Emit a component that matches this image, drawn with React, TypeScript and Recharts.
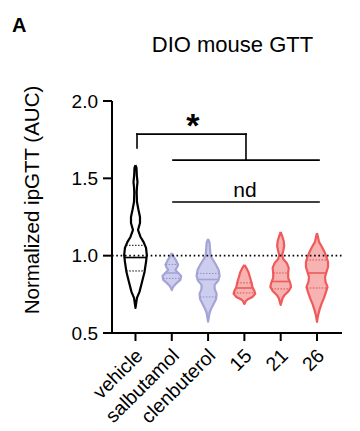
import React from 'react';
import { ComposedChart, Scatter, XAxis, YAxis, ReferenceLine, ReferenceDot, Label } from 'recharts';

const FONT = '"Liberation Sans", Arial, Helvetica, sans-serif';

const CATEGORIES = ['vehicle', 'salbutamol', 'clenbuterol', '15', '21', '26'];
const Y_TICKS = [0.5, 1.0, 1.5, 2.0];
const X_DOMAIN = [-0.647, 5.689];
const REF_VALUE = 1.0;

// violin profiles: values (y) and half-widths (category units); quartiles [Q3, median, Q1]
const VEHICLE_Y = [1.586, 1.567, 1.521, 1.476, 1.444, 1.411, 1.347, 1.295, 1.25, 1.211, 1.166, 1.121, 1.089, 1.05, 1.005, 0.959, 0.895, 0.83, 0.766, 0.727, 0.662];
const VEHICLE_W = [0, 0.028, 0.036, 0.055, 0.041, 0.033, 0.041, 0.083, 0.124, 0.124, 0.069, 0.138, 0.221, 0.29, 0.312, 0.29, 0.249, 0.18, 0.11, 0.041, 0];
const VEHICLE_Q = [1.067, 0.988, 0.901];

const SALBUTAMOL_Y = [1.017, 0.992, 0.966, 0.941, 0.921, 0.908, 0.888, 0.869, 0.843, 0.824, 0.804, 0.791, 0.778];
const SALBUTAMOL_W = [0, 0.055, 0.124, 0.174, 0.138, 0.097, 0.18, 0.257, 0.235, 0.138, 0.055, 0.022, 0];
const SALBUTAMOL_Q = [0.943, 0.888, 0.853];

const CLENBUTEROL_Y = [1.108, 1.082, 1.037, 0.998, 0.972, 0.94, 0.908, 0.869, 0.837, 0.811, 0.785, 0.753, 0.72, 0.688, 0.656, 0.631, 0.573];
const CLENBUTEROL_W = [0, 0.041, 0.055, 0.069, 0.138, 0.221, 0.29, 0.318, 0.276, 0.18, 0.18, 0.235, 0.221, 0.152, 0.083, 0.041, 0];
const CLENBUTEROL_Q = [0.885, 0.846, 0.733];

const C15_Y = [0.94, 0.921, 0.895, 0.862, 0.83, 0.798, 0.772, 0.753, 0.733, 0.72, 0.707, 0.688];
const C15_W = [0, 0.055, 0.11, 0.152, 0.193, 0.221, 0.276, 0.298, 0.221, 0.11, 0.041, 0];
const C15_Q = [0.824, 0.791, 0.759];

const C21_Y = [1.153, 1.127, 1.095, 1.063, 1.03, 1.005, 0.979, 0.953, 0.921, 0.888, 0.856, 0.824, 0.798, 0.772, 0.746, 0.727, 0.682];
const C21_W = [0, 0.041, 0.083, 0.097, 0.069, 0.041, 0.069, 0.166, 0.221, 0.207, 0.207, 0.262, 0.285, 0.221, 0.11, 0.055, 0];
const C21_Q = [0.888, 0.833, 0.785];

const C26_Y = [1.147, 1.121, 1.089, 1.056, 1.024, 0.992, 0.959, 0.927, 0.895, 0.862, 0.83, 0.798, 0.766, 0.727, 0.688, 0.649, 0.617, 0.572];
const C26_W = [0, 0.028, 0.055, 0.138, 0.207, 0.262, 0.304, 0.304, 0.262, 0.221, 0.235, 0.29, 0.249, 0.193, 0.124, 0.069, 0.033, 0];
const C26_Q = [0.972, 0.888, 0.791];

// significance annotations (data coordinates)
const STAR_POS = { x: 1.584, y: 1.843 };
const ND_POS = { x: 3.017, y: 1.425 };
const BRACKETS = [
  [{ x: 0.042, y: 1.696 }, { x: 0.042, y: 1.786 }],
  [{ x: 0.042, y: 1.786 }, { x: 3.044, y: 1.786 }],
  [{ x: 3.044, y: 1.786 }, { x: 3.044, y: 1.618 }],
  [{ x: 1.033, y: 1.618 }, { x: 5.056, y: 1.618 }],
  [{ x: 1.033, y: 1.347 }, { x: 5.056, y: 1.347 }],
];

const STYLES: Record<string, { stroke: string; fill: string; q: string }> = {
  black: { stroke: '#000000', fill: '#ffffff', q: '#000000' },
  lav: { stroke: '#a4a4d8', fill: '#cdcdee', q: '#9090c8' },
  red: { stroke: '#ef5a5a', fill: '#f7b2b2', q: '#e24c4c' },
};

const GROUPS = [
  { ys: VEHICLE_Y, ws: VEHICLE_W, q: VEHICLE_Q, style: 'black' },
  { ys: SALBUTAMOL_Y, ws: SALBUTAMOL_W, q: SALBUTAMOL_Q, style: 'lav' },
  { ys: CLENBUTEROL_Y, ws: CLENBUTEROL_W, q: CLENBUTEROL_Q, style: 'lav' },
  { ys: C15_Y, ws: C15_W, q: C15_Q, style: 'red' },
  { ys: C21_Y, ws: C21_W, q: C21_Q, style: 'red' },
  { ys: C26_Y, ws: C26_W, q: C26_Q, style: 'red' },
];

function outline(i: number, ys: number[], ws: number[]) {
  const right = ys.map((y, k) => ({ x: i + ws[k], y }));
  const left = ys.map((y, k) => ({ x: i - ws[k], y })).reverse();
  return [...right, ...left, right[0]];
}

function widthAt(ys: number[], ws: number[], v: number) {
  for (let k = 0; k < ys.length - 1; k++) {
    if ((ys[k] - v) * (ys[k + 1] - v) <= 0) {
      const t = (v - ys[k]) / (ys[k + 1] - ys[k]);
      return ws[k] + t * (ws[k + 1] - ws[k]);
    }
  }
  return 0;
}

const XTick = (props: any) => {
  const { x, y, payload } = props;
  const ax = x + 8.5;
  const ay = y + 12;
  return (
    <text x={ax} y={ay} transform={`rotate(-45 ${ax} ${ay})`} textAnchor="end" fontSize={19.5} fontFamily={FONT} fill="#000">
      {CATEGORIES[payload.value]}
    </text>
  );
};

const YLabel = (props: any) => {
  const vb = props.viewBox || { x: 0, y: 101, width: 112, height: 232 };
  const lx = vb.x + 39;
  const ly = vb.y + vb.height / 2 - 17;
  return (
    <text x={lx} y={ly} transform={`rotate(-90 ${lx} ${ly})`} textAnchor="middle" fontSize={20.5} fontFamily={FONT} fill="#000">
      Normalized ipGTT (AUC)
    </text>
  );
};

const Empty = () => <g />;

export default function App() {
  return (
    <div style={{ position: 'absolute', left: 0, top: 0, width: 360, height: 431, background: '#fff' }}>
      <ComposedChart width={360} height={431} margin={{ top: 101, right: 18, bottom: 0, left: 0 }}>
        <XAxis
          type="number"
          dataKey="x"
          domain={X_DOMAIN}
          ticks={[0, 1, 2, 3, 4, 5]}
          allowDataOverflow
          interval={0}
          height={98}
          tickSize={8}
          tickMargin={4}
          tick={<XTick />}
          axisLine={{ stroke: '#000', strokeWidth: 2 }}
          tickLine={{ stroke: '#000', strokeWidth: 2 }}
        />
        <YAxis
          type="number"
          dataKey="y"
          domain={[0.5, 2]}
          ticks={Y_TICKS}
          allowDataOverflow
          interval={0}
          width={112}
          tickSize={9}
          tickMargin={5}
          tickFormatter={(v: number) => v.toFixed(1)}
          tick={{ fontSize: 19, fill: '#000', fontFamily: FONT }}
          axisLine={{ stroke: '#000', strokeWidth: 2 }}
          tickLine={{ stroke: '#000', strokeWidth: 2 }}
          label={<Label content={<YLabel />} />}
        />
        {BRACKETS.map((s, k) => (
          <ReferenceLine key={`b${k}`} segment={s} stroke="#000" strokeWidth={1.6} strokeLinecap="square" />
        ))}
        {GROUPS.map((g, i) => {
          const st = STYLES[g.style];
          return (
            <Scatter
              key={`v${i}`}
              data={outline(i, g.ys, g.ws)}
              isAnimationActive={false}
              shape={Empty}
              fill={st.fill}
              line={{ stroke: st.stroke, strokeWidth: 2.2, fill: st.fill, strokeLinejoin: 'round' }}
              lineType="joint"
              lineJointType="linear"
            />
          );
        })}
        {GROUPS.map((g, i) =>
          g.q.map((v, k) => {
            const w = widthAt(g.ys, g.ws, v);
            const st = STYLES[g.style];
            return (
              <Scatter
                key={`q${i}-${k}`}
                data={[{ x: i - w, y: v }, { x: i + w, y: v }]}
                isAnimationActive={false}
                shape={Empty}
                fill="none"
                line={
                  k === 1
                    ? { stroke: st.stroke, strokeWidth: 1.6, fill: 'none' }
                    : { stroke: st.q, strokeWidth: 1, strokeDasharray: '1.5 1.5', fill: 'none' }
                }
                lineType="joint"
                lineJointType="linear"
              />
            );
          })
        )}
        <Scatter
          data={[{ x: X_DOMAIN[0], y: REF_VALUE }, { x: X_DOMAIN[1], y: REF_VALUE }]}
          isAnimationActive={false}
          shape={Empty}
          fill="none"
          line={{ stroke: '#000', strokeWidth: 1.6, strokeDasharray: '1.6 2.7', fill: 'none' }}
          lineType="joint"
          lineJointType="linear"
        />
        <ReferenceDot x={STAR_POS.x} y={STAR_POS.y} r={0} fill="none" stroke="none"
          label={{ value: '*', position: 'center', fontSize: 34, fontWeight: 'bold', fill: '#000', fontFamily: FONT }} />
        <ReferenceDot x={ND_POS.x} y={ND_POS.y} r={0} fill="none" stroke="none"
          label={{ value: 'nd', position: 'center', fontSize: 21, fill: '#000', fontFamily: FONT }} />
      </ComposedChart>
      <svg width={360} height={431} style={{ position: 'absolute', left: 0, top: 0, pointerEvents: 'none' }}>
        <text x={12} y={32} fontSize={20} fontWeight="bold" fontFamily={FONT} fill="#000">A</text>
        <text x={232.5} y={52} fontSize={22} textAnchor="middle" fontFamily={FONT} fill="#000">DIO mouse GTT</text>
      </svg>
    </div>
  );
}
